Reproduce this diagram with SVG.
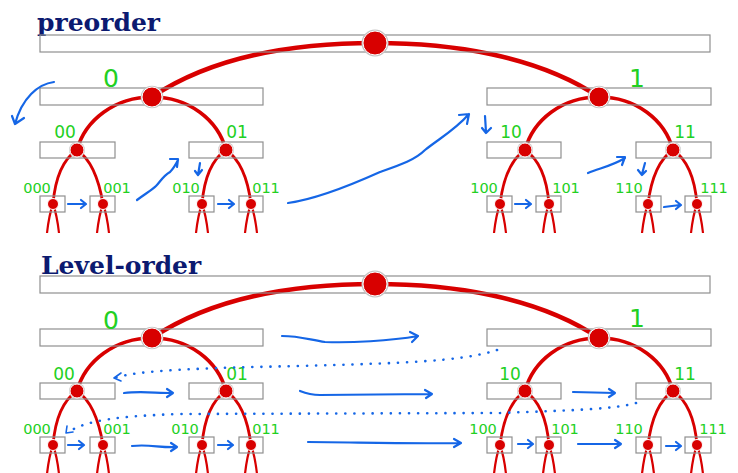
<svg xmlns="http://www.w3.org/2000/svg" width="738" height="473" viewBox="0 0 738 473">
<style>
.bg{fill:#fff}
.bar{fill:none;stroke:#8f8f8f;stroke-width:1.2}
.halo{fill:#c4c4c4}
.dotn{fill:#d80000;stroke:#fff;stroke-width:1}
.e0{fill:none;stroke:#d80000;stroke-width:4.6;stroke-linecap:round}
.e1{fill:none;stroke:#d80000;stroke-width:3.6;stroke-linecap:round}
.e2{fill:none;stroke:#d80000;stroke-width:2.8;stroke-linecap:round}
.e3{fill:none;stroke:#d80000;stroke-width:2.2}
.lab{font-family:"DejaVu Sans","Liberation Sans",sans-serif;fill:#22d022;text-anchor:middle}
.l1{font-size:25px}
.l2{font-size:17px}
.l3{font-size:14.5px}
.title{font-family:"DejaVu Serif","Liberation Serif",serif;font-weight:bold;font-size:25px;fill:#0c1a70}
.blue{fill:none;stroke:#1566e6;stroke-width:2.2;stroke-linecap:round;stroke-linejoin:round}
.dots{fill:none;stroke:#1566e6;stroke-width:2.6;stroke-linecap:round;stroke-dasharray:0.1 9}
</style>
<rect class="bg" x="0" y="0" width="738" height="473"/>

<text class="title" x="37" y="31">preorder</text>
<text class="title" x="41" y="274">Level-order</text>

<!-- ===== PREORDER TREE ===== -->
<g id="pre-connectors">
<path class="e0" d="M375,43 C300,43 215,55 152,97"/>
<path class="e0" d="M375,43 C450,43 536,55 599,97"/>
<path class="e1" d="M152,97 C115,97 85,120 77,150"/>
<path class="e1" d="M152,97 C189,97 218,120 226,150"/>
<path class="e1" d="M599,97 C562,97 533,120 525,150"/>
<path class="e1" d="M599,97 C636,97 665,120 673,150"/>
<path class="e2" d="M77,150 C62,160 55,180 53,204"/>
<path class="e2" d="M77,150 C92,160 99,180 103,204"/>
<path class="e2" d="M226,150 C211,160 204,180 202,204"/>
<path class="e2" d="M226,150 C241,160 248,180 251,204"/>
<path class="e2" d="M525,150 C510,160 503,180 500,204"/>
<path class="e2" d="M525,150 C540,160 547,180 549,204"/>
<path class="e2" d="M673,150 C658,160 651,180 648,204"/>
<path class="e2" d="M673,150 C688,160 695,180 697,204"/>
<path class="e3" d="M53,204 Q49,215 47,233 M53,204 Q57,215 59,233 M103,204 Q99,215 97,233 M103,204 Q107,215 109,233 M202,204 Q198,215 196,233 M202,204 Q206,215 208,233 M251,204 Q247,215 245,233 M251,204 Q255,215 257,233 M500,204 Q496,215 494,233 M500,204 Q504,215 506,233 M549,204 Q545,215 543,233 M549,204 Q553,215 555,233 M648,204 Q644,215 642,233 M648,204 Q652,215 654,233 M697,204 Q693,215 691,233 M697,204 Q701,215 703,233"/>
</g>

<g id="pre-root"><rect class="bar" x="40" y="35" width="670" height="17"/><circle class="halo" cx="375" cy="43" r="13.5"/><circle class="dotn" cx="375" cy="43" r="12"/></g>
<g id="pre-n0"><rect class="bar" x="40" y="88" width="223" height="17"/><circle class="halo" cx="152" cy="97" r="11.3"/><circle class="dotn" cx="152" cy="97" r="10"/><text class="lab l1" x="111" y="87">0</text></g>
<g id="pre-n1"><rect class="bar" x="487" y="88" width="224" height="17"/><circle class="halo" cx="599" cy="97" r="11.3"/><circle class="dotn" cx="599" cy="97" r="10"/><text class="lab l1" x="637" y="87">1</text></g>
<g id="pre-n00"><rect class="bar" x="40" y="142" width="75" height="16"/><circle class="halo" cx="77" cy="150" r="8"/><circle class="dotn" cx="77" cy="150" r="7"/><text class="lab l2" x="65" y="138">00</text></g>
<g id="pre-n01"><rect class="bar" x="189" y="142" width="74" height="16"/><circle class="halo" cx="226" cy="150" r="8"/><circle class="dotn" cx="226" cy="150" r="7"/><text class="lab l2" x="237" y="138">01</text></g>
<g id="pre-n10"><rect class="bar" x="487" y="142" width="74" height="16"/><circle class="halo" cx="525" cy="150" r="8"/><circle class="dotn" cx="525" cy="150" r="7"/><text class="lab l2" x="511" y="138">10</text></g>
<g id="pre-n11"><rect class="bar" x="636" y="142" width="75" height="16"/><circle class="halo" cx="673" cy="150" r="8"/><circle class="dotn" cx="673" cy="150" r="7"/><text class="lab l2" x="685" y="138">11</text></g>
<g id="pre-n000"><rect class="bar" x="40" y="196" width="25" height="16"/><circle class="dotn" cx="53" cy="204" r="5.5"/><text class="lab l3" x="37" y="193">000</text></g>
<g id="pre-n001"><rect class="bar" x="90" y="196" width="25" height="16"/><circle class="dotn" cx="103" cy="204" r="5.5"/><text class="lab l3" x="117" y="193">001</text></g>
<g id="pre-n010"><rect class="bar" x="189" y="196" width="25" height="16"/><circle class="dotn" cx="202" cy="204" r="5.5"/><text class="lab l3" x="186" y="193">010</text></g>
<g id="pre-n011"><rect class="bar" x="239" y="196" width="24" height="16"/><circle class="dotn" cx="251" cy="204" r="5.5"/><text class="lab l3" x="266" y="193">011</text></g>
<g id="pre-n100"><rect class="bar" x="487" y="196" width="25" height="16"/><circle class="dotn" cx="500" cy="204" r="5.5"/><text class="lab l3" x="484" y="193">100</text></g>
<g id="pre-n101"><rect class="bar" x="536" y="196" width="25" height="16"/><circle class="dotn" cx="549" cy="204" r="5.5"/><text class="lab l3" x="566" y="193">101</text></g>
<g id="pre-n110"><rect class="bar" x="636" y="196" width="25" height="16"/><circle class="dotn" cx="648" cy="204" r="5.5"/><text class="lab l3" x="629" y="193">110</text></g>
<g id="pre-n111"><rect class="bar" x="685" y="196" width="26" height="16"/><circle class="dotn" cx="697" cy="204" r="5.5"/><text class="lab l3" x="714" y="193">111</text></g>

<g id="pre-arrows">
<path class="blue" d="M54,82 C38,84 22,98 15,124 M12,116 L15,124 L24,118"/>
<path class="blue" d="M137,200 C145,194 152,190 156,186 C160,182 163,176 170,172 C174,168 176,164 178,160 M170,159 L178,159 L177,167"/>
<path class="blue" d="M200,163 L198,175 M195,171 L198,175 L202,170"/>
<path class="blue" d="M68,204 L85,204 M81,200 L86,204 L81,208"/>
<path class="blue" d="M218,204 L233,204 M229,200 L234,204 L229,208"/>
<path class="blue" d="M288,203 C310,200 340,190 380,172 C400,165 415,160 425,150 C440,138 455,130 469,114 M459,115 L469,114 L467,124"/>
<path class="blue" d="M485,116 L486,132 M482,128 L486,133 L491,128"/>
<path class="blue" d="M588,173 C600,168 612,166 625,158 M617,157 L625,157 L622,165"/>
<path class="blue" d="M645,163 L642,174 M638,170 L642,175 L646,171"/>
<path class="blue" d="M515,204 L530,204 M526,200 L531,204 L526,208"/>
<path class="blue" d="M664,207 L680,205 M676,201 L681,205 L676,209"/>
</g>

<!-- ===== LEVEL-ORDER TREE ===== -->
<g transform="translate(0,241)">
<g id="lvl-connectors">
<path class="e0" d="M375,43 C300,43 215,55 152,97"/>
<path class="e0" d="M375,43 C450,43 536,55 599,97"/>
<path class="e1" d="M152,97 C115,97 85,120 77,150"/>
<path class="e1" d="M152,97 C189,97 218,120 226,150"/>
<path class="e1" d="M599,97 C562,97 533,120 525,150"/>
<path class="e1" d="M599,97 C636,97 665,120 673,150"/>
<path class="e2" d="M77,150 C62,160 55,180 53,204"/>
<path class="e2" d="M77,150 C92,160 99,180 103,204"/>
<path class="e2" d="M226,150 C211,160 204,180 202,204"/>
<path class="e2" d="M226,150 C241,160 248,180 251,204"/>
<path class="e2" d="M525,150 C510,160 503,180 500,204"/>
<path class="e2" d="M525,150 C540,160 547,180 549,204"/>
<path class="e2" d="M673,150 C658,160 651,180 648,204"/>
<path class="e2" d="M673,150 C688,160 695,180 697,204"/>
<path class="e3" d="M53,204 Q49,215 47,233 M53,204 Q57,215 59,233 M103,204 Q99,215 97,233 M103,204 Q107,215 109,233 M202,204 Q198,215 196,233 M202,204 Q206,215 208,233 M251,204 Q247,215 245,233 M251,204 Q255,215 257,233 M500,204 Q496,215 494,233 M500,204 Q504,215 506,233 M549,204 Q545,215 543,233 M549,204 Q553,215 555,233 M648,204 Q644,215 642,233 M648,204 Q652,215 654,233 M697,204 Q693,215 691,233 M697,204 Q701,215 703,233"/>
</g>
<g id="lvl-root"><rect class="bar" x="40" y="35" width="670" height="17"/><circle class="halo" cx="375" cy="43" r="13.5"/><circle class="dotn" cx="375" cy="43" r="12"/></g>
<g id="lvl-n0"><rect class="bar" x="40" y="88" width="223" height="17"/><circle class="halo" cx="152" cy="97" r="11.3"/><circle class="dotn" cx="152" cy="97" r="10"/><text class="lab l1" x="111" y="88">0</text></g>
<g id="lvl-n1"><rect class="bar" x="487" y="88" width="224" height="17"/><circle class="halo" cx="599" cy="97" r="11.3"/><circle class="dotn" cx="599" cy="97" r="10"/><text class="lab l1" x="637" y="86">1</text></g>
<g id="lvl-n00"><rect class="bar" x="40" y="142" width="75" height="16"/><circle class="halo" cx="77" cy="150" r="8"/><circle class="dotn" cx="77" cy="150" r="7"/><text class="lab l2" x="64" y="139">00</text></g>
<g id="lvl-n01"><rect class="bar" x="189" y="142" width="74" height="16"/><circle class="halo" cx="226" cy="150" r="8"/><circle class="dotn" cx="226" cy="150" r="7"/><text class="lab l2" x="237" y="139">01</text></g>
<g id="lvl-n10"><rect class="bar" x="487" y="142" width="74" height="16"/><circle class="halo" cx="525" cy="150" r="8"/><circle class="dotn" cx="525" cy="150" r="7"/><text class="lab l2" x="510" y="139">10</text></g>
<g id="lvl-n11"><rect class="bar" x="636" y="142" width="75" height="16"/><circle class="halo" cx="673" cy="150" r="8"/><circle class="dotn" cx="673" cy="150" r="7"/><text class="lab l2" x="685" y="139">11</text></g>
<g id="lvl-n000"><rect class="bar" x="40" y="196" width="25" height="16"/><circle class="dotn" cx="53" cy="204" r="5.5"/><text class="lab l3" x="37" y="193">000</text></g>
<g id="lvl-n001"><rect class="bar" x="90" y="196" width="25" height="16"/><circle class="dotn" cx="103" cy="204" r="5.5"/><text class="lab l3" x="117" y="193">001</text></g>
<g id="lvl-n010"><rect class="bar" x="189" y="196" width="25" height="16"/><circle class="dotn" cx="202" cy="204" r="5.5"/><text class="lab l3" x="185" y="193">010</text></g>
<g id="lvl-n011"><rect class="bar" x="239" y="196" width="24" height="16"/><circle class="dotn" cx="251" cy="204" r="5.5"/><text class="lab l3" x="266" y="193">011</text></g>
<g id="lvl-n100"><rect class="bar" x="487" y="196" width="25" height="16"/><circle class="dotn" cx="500" cy="204" r="5.5"/><text class="lab l3" x="483" y="193">100</text></g>
<g id="lvl-n101"><rect class="bar" x="536" y="196" width="25" height="16"/><circle class="dotn" cx="549" cy="204" r="5.5"/><text class="lab l3" x="565" y="193">101</text></g>
<g id="lvl-n110"><rect class="bar" x="636" y="196" width="25" height="16"/><circle class="dotn" cx="648" cy="204" r="5.5"/><text class="lab l3" x="629" y="193">110</text></g>
<g id="lvl-n111"><rect class="bar" x="685" y="196" width="26" height="16"/><circle class="dotn" cx="697" cy="204" r="5.5"/><text class="lab l3" x="713" y="193">111</text></g>
</g>

<g id="lvl-arrows">
<path class="blue" d="M282,336 C300,336 310,340 325,342 C350,343 390,341 418,336 M410,332 L418,336 L412,342"/>
<path class="blue" d="M300,391 C305,393 310,395 320,395 L432,394 M425,390 L432,394 L426,398"/>
<path class="blue" d="M308,442 C350,442 400,444 460,443 M454,439 L461,443 L454,447"/>
<path class="blue" d="M124,393 C140,391 155,393 173,393 M167,389 L173,393 L167,397"/>
<path class="blue" d="M573,392 L615,393 M609,389 L615,393 L609,397"/>
<path class="blue" d="M68,445 L83,445 M79,441 L84,445 L79,449"/>
<path class="blue" d="M132,446 C150,444 160,448 177,447 M171,443 L177,447 L171,451"/>
<path class="blue" d="M218,445 L232,445 M228,441 L233,445 L228,449"/>
<path class="blue" d="M518,444 L532,444 M528,440 L533,444 L528,448"/>
<path class="blue" d="M578,444 L621,444 M615,440 L621,444 L615,448"/>
<path class="blue" d="M666,446 L680,446 M676,442 L681,446 L676,450"/>
<path class="dots" d="M497,350 C460,362 400,363 300,366 C200,368 140,370 114,378"/>
<path class="blue" style="stroke-width:1.6" d="M121,373 L114,378 L121,381"/>
<path class="dots" d="M636,403 C615,409 580,410 500,413 L180,414 C120,416 85,420 67,433"/>
<path class="blue" style="stroke-width:1.6" d="M67,426 L66,433 L73,432"/>
</g>
</svg>
